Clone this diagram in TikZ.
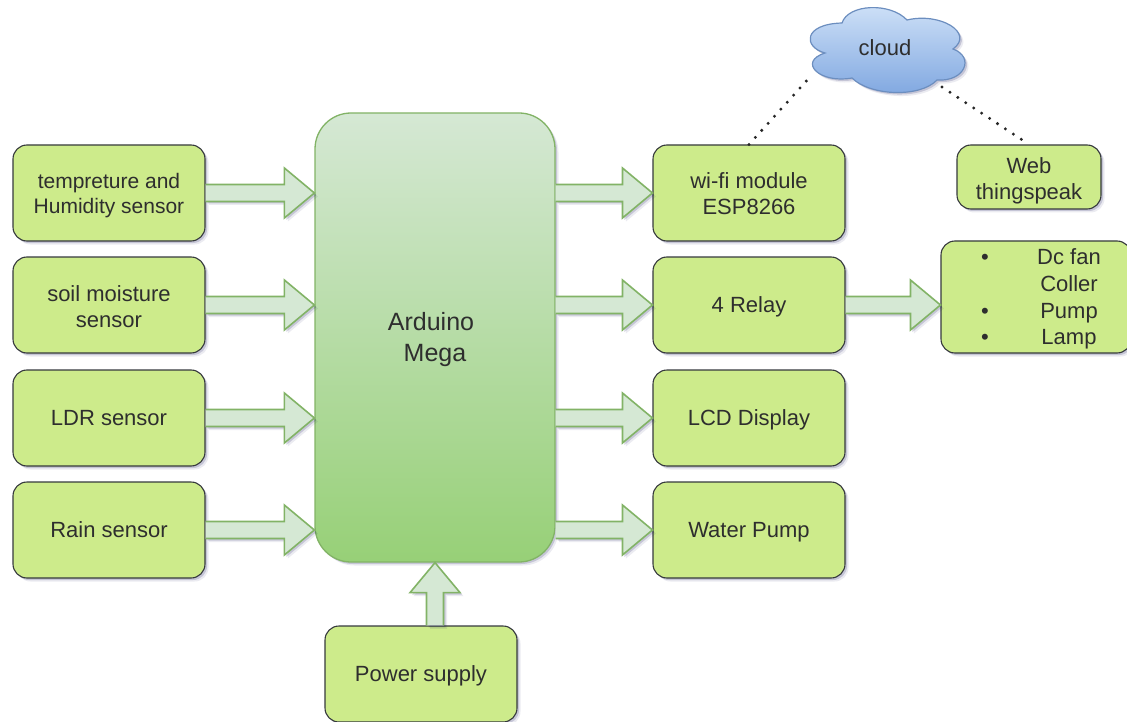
\documentclass[tikz,border=0pt]{standalone}
\usepackage{fontspec}
\setmainfont{Liberation Sans}
\usetikzlibrary{calc,shadows}
\definecolor{boxfill}{HTML}{CDEB8B}
\definecolor{boxline}{HTML}{36393D}
\definecolor{arfill}{HTML}{D5E8D4}
\definecolor{arline}{HTML}{82B366}
\definecolor{ardbot}{HTML}{97D077}
\definecolor{cloudtop}{HTML}{D0E2F8}
\definecolor{cloudbot}{HTML}{7EA6E0}
\definecolor{cloudline}{HTML}{6C8EBF}
\definecolor{txt}{HTML}{2E2E2E}
\tikzset{
  softshadow/.style={
    general shadow={shadow xshift=3.5pt,shadow yshift=-3.5pt,fill=black!70!blue,opacity=.08},
    general shadow={shadow xshift=2pt,shadow yshift=-2pt,fill=black!70!blue,opacity=.16}},
  greenbox/.style={draw=boxline,line width=1.1pt,fill=boxfill,rounded corners=14pt,
    text=txt,font=\fontsize{22}{25}\selectfont,align=center,inner sep=0pt,
    execute at begin node={\rule{0pt}{19pt}},execute at end node={\rule[-5pt]{0pt}{5pt}},
    minimum width=192pt,minimum height=96pt,softshadow},
  boxlabel/.style={text=txt,font=\fontsize{22}{26}\selectfont,align=center,inner sep=0pt,
    execute at begin node={\rule{0pt}{16pt}},execute at end node={\rule[-5pt]{0pt}{5pt}}},
  mainboard/.style={draw=arline,line width=1.3pt,rounded corners=36pt,top color=arfill,bottom color=ardbot,
    inner sep=0pt,minimum width=240pt,minimum height=449pt,softshadow},
  blockarrow/.style={draw=arline,line width=1.6pt,fill=arfill,line join=miter,softshadow},
  dotline/.style={line width=3.3pt,line cap=round,dash pattern=on 0pt off 9.5pt,black!85},
  listtext/.style={text=txt,font=\fontsize{22}{25}\selectfont,inner sep=0pt,text height=16pt,text depth=5pt},
}
\newcommand{\blockarrow}[2]{%
  \coordinate (ta) at (#1);
  \coordinate (tb) at (#2);
  \coordinate (tc) at ($(tb)!30pt!(ta)$);
  \draw[blockarrow]
    ($(ta)!8.5pt!90:(tb)$) -- ($(tc)!8.5pt!90:(tb)$) -- ($(tc)!25pt!90:(tb)$) -- (tb)
    -- ($(tc)!25pt!-90:(tb)$) -- ($(tc)!8.5pt!-90:(tb)$) -- ($(ta)!8.5pt!-90:(tb)$);
}
\begin{document}
\begin{tikzpicture}[x=1pt,y=-1pt]
\useasboundingbox (0,0) rectangle (1127,722);
% arduino
\node[mainboard] (ard) at (435,337.5) {};
\node[text=txt,font=\fontsize{25}{31}\selectfont,align=center,inner sep=0pt] (ardt) at (431,340) {Arduino\\\hspace{8pt}Mega};
% left column
\node[greenbox] (t1) at (109,193) {};
\node[boxlabel,font=\fontsize{21}{25}\selectfont] (t1t) at (109,196) {tempreture and\\Humidity sensor};
\node[greenbox] (t2) at (109,305) {};
\node[boxlabel] (t2t) at (109,309) {soil moisture\\sensor};
\node[greenbox] (t3) at (109,418) {LDR sensor};
\node[greenbox] (t4) at (109,530) {Rain sensor};
% right column
\node[greenbox] (w1) at (749,193) {};
\node[boxlabel] (w1t) at (749,196) {wi-fi module\\ESP8266};
\node[greenbox] (w2) at (749,305) {4 Relay};
\node[greenbox] (w3) at (749,418) {LCD Display};
\node[greenbox] (w4) at (749,530) {Water Pump};
% power
\node[greenbox] (ps) at (421,674) {Power supply};
% web
\node[greenbox,minimum width=144pt,minimum height=64pt] (web) at (1029,177) {};
\node[boxlabel] (webt) at (1029,181) {Web\\thingspeak};
% list box
\node[greenbox,minimum width=190pt,minimum height=112pt] (lst) at (1036,297) {};
\node[listtext] (b1) at (985,259) {•};
\node[listtext] (b3) at (985,313) {•};
\node[listtext] (b4) at (985,339) {•};
\node[listtext] (l1) at (1069,259) {Dc fan};
\node[listtext] (l2) at (1069,286) {Coller};
\node[listtext] (l3) at (1069,313) {Pump};
\node[listtext] (l4) at (1069,339) {Lamp};
% cloud
\draw[draw=cloudline,line width=1.2pt,top color=cloudtop,bottom color=cloudbot,softshadow]
  (825,53) .. controls (803,47) and (803,24) .. (842,23)
  .. controls (848,4) and (890,2) .. (907,20)
  .. controls (940,12) and (975,33) .. (953,49)
  .. controls (975,57) and (965,82) .. (937,80)
  .. controls (920,98) and (870,96) .. (852,78)
  .. controls (820,84) and (797,62) .. (825,53) -- cycle;
\node[text=txt,font=\fontsize{22}{25}\selectfont,inner sep=0pt] (cl) at (885,48) {cloud};
\coordinate (cla) at (810,77);
\coordinate (clb) at (942,87);
% dotted links
\draw[dotline] (w1.north) -- (cla);
\draw[dotline] (clb) -- (web.north);
% block arrows
\blockarrow{t1.east}{ard.west |- t1}
\blockarrow{t2.east}{ard.west |- t2}
\blockarrow{t3.east}{ard.west |- t3}
\blockarrow{t4.east}{ard.west |- t4}
\blockarrow{ard.east |- w1}{w1.west}
\blockarrow{ard.east |- w2}{w2.west}
\blockarrow{ard.east |- w3}{w3.west}
\blockarrow{ard.east |- w4}{w4.west}
\blockarrow{w2.east}{lst.west |- w2}
\blockarrow{ps.north -| ard.south}{ard.south}
\end{tikzpicture}
\end{document}
